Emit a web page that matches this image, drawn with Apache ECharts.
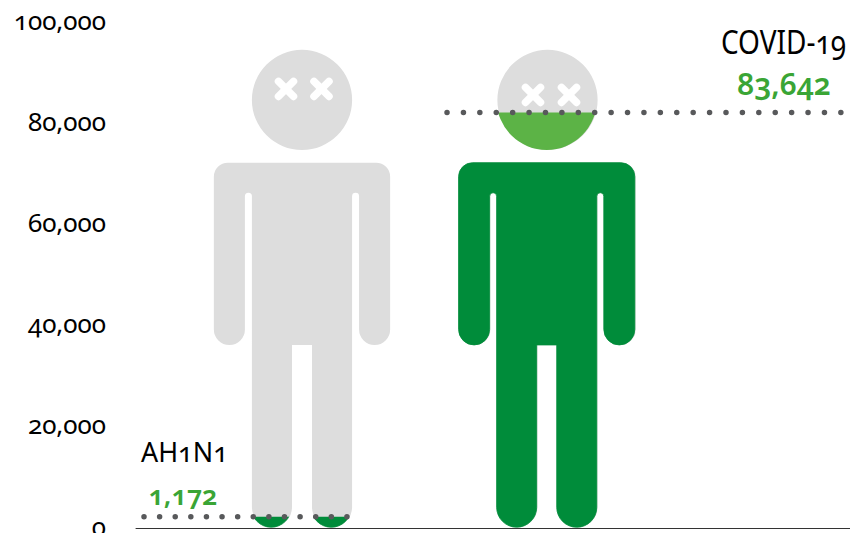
<!DOCTYPE html>
<html lang="en">
<head>
    <meta charset="UTF-8">
    <title>AH1N1 vs COVID-19</title>
    <script src="https://cdn.jsdelivr.net/npm/echarts@6/dist/echarts.min.js"></script>
    <style>
        html, body { margin: 0; padding: 0; background: #fff; }
        /* old style figures, the svg text inherits this */
        #main { width: 850px; height: 533px; font-feature-settings: "onum" 1; font-variant-numeric: oldstyle-nums; }
    </style>
</head>
<body>
<div id="main"></div>
<script>
    const categories = ['AH1N1', 'COVID-19'];
    const deathLabels = ['1,172', '83,642'];
    // level of the fill as it is drawn in the picture
    const fillLevels = [2230, 82100];
    const yTicks = [0, 20000, 40000, 60000, 80000, 100000];
    // figure extent on the y axis
    const headTop = 94500;
    const headBottom = 74700;
    const bodyTop = 72200;
    const bodyBottom = 150;

    const HEAD_PATH = 'M50 0A50 50 0 1 1 50 100A50 50 0 1 1 50 0Z';
    const BODY_PATH = 'M14 113H162A14 14 0 0 1 176 127V279.5A15.5 15.5 0 0 1 145 279.5V146.5A3.5 3.5 0 0 0 138 146.5V457A20 20 0 0 1 98 457V295H78V457A20 20 0 0 1 38 457V146.5A3.5 3.5 0 0 0 31 146.5V279.5A15.5 15.5 0 0 1 0 279.5V127A14 14 0 0 1 14 113Z';

    const FONT = '"Noto Sans"';
    const GREY = '#dddddd';
    const BODY_GREEN = '#008c3a';
    const HEAD_GREEN = '#5cb346';
    const TEXT_GREEN = '#3aa535';
    const DOT = '#58595b';

    // eyes are not quite in the same place on the two figures
    const eyeOffsets = [
        {x: [-16, 19.5], y: -11},
        {x: [-14.5, 21.5], y: -5}
    ];

    function eye(cx, cy) {
        const r = 7.5;
        const stroke = {stroke: '#fff', lineWidth: 7.5, lineCap: 'round'};
        return [
            {type: 'line', shape: {x1: cx - r, y1: cy - r, x2: cx + r, y2: cy + r}, style: stroke},
            {type: 'line', shape: {x1: cx - r, y1: cy + r, x2: cx + r, y2: cy - r}, style: stroke}
        ];
    }

    function renderFigure(params, api) {
        const idx = api.value(0);
        const level = api.value(1);
        const cx = api.coord([idx, 0])[0];
        const yOf = v => api.coord([idx, v])[1];

        const headT = yOf(headTop), headB = yOf(headBottom);
        const bodyT = yOf(bodyTop), bodyB = yOf(bodyBottom);
        const d = headB - headT;
        const bodyW = (bodyB - bodyT) * 176 / 364;
        const levelY = yOf(level);

        const head = (color, dx) => ({
            type: 'path',
            shape: {pathData: HEAD_PATH, x: cx + dx - d / 2, y: headT, width: d, height: d, layout: 'cover'},
            style: {fill: color}
        });
        // green sits a bit left of the grey and is a bit fatter
        const body = (color, dx, edge) => ({
            type: 'path',
            shape: {pathData: BODY_PATH, x: cx + dx - bodyW / 2, y: bodyT, width: bodyW, height: bodyB - bodyT, layout: 'cover'},
            style: {fill: color, stroke: edge ? color : null, lineWidth: edge}
        });
        const off = eyeOffsets[idx];
        const eyeY = (headT + headB) / 2 + off.y;

        return {
            type: 'group',
            children: [
                head(GREY, 0),
                body(GREY, 0, 0),
                {
                    type: 'group',
                    clipPath: {type: 'rect', shape: {x: cx - 120, y: levelY, width: 240, height: 500}},
                    children: [head(HEAD_GREEN, -0.8), body(BODY_GREEN, -0.8, 0.8)]
                }
            ].concat(eye(cx + off.x[0], eyeY), eye(cx + off.x[1], eyeY))
        };
    }

    function label(text, x, y, size, color, align, weight, scaleX) {
        return {
            type: 'text', x: x, y: y, z: 10, scaleX: scaleX || 1,
            style: {
                text: text, fill: color, align: align, verticalAlign: 'middle',
                fontFamily: FONT, fontSize: size, fontWeight: weight || 'normal'
            }
        };
    }

    let myChart = echarts.init(document.getElementById('main'), null, {renderer: 'svg'});

    let option = {
        animation: false,
        backgroundColor: '#fff',
        grid: [
            {left: 179.25, width: 491, top: 22, height: 506, outerBoundsMode: 'none'},
            {left: 136, right: 0, top: 22, height: 506, outerBoundsMode: 'none'}
        ],
        xAxis: [
            {type: 'category', gridIndex: 0, data: categories, show: false},
            {
                type: 'value', gridIndex: 1, min: 0, max: 1,
                axisLine: {show: true, onZero: false, lineStyle: {color: '#333', width: 1}},
                axisTick: {show: false}, axisLabel: {show: false}, splitLine: {show: false}
            }
        ],
        yAxis: [
            {type: 'value', gridIndex: 0, min: 0, max: 100000, show: false},
            {
                type: 'value', gridIndex: 1, min: 0, max: 100000, interval: 20000,
                axisLine: {show: false}, axisTick: {show: false}, splitLine: {show: false},
                axisLabel: {
                    show: true, margin: 30, color: '#000', fontFamily: FONT, fontSize: 26,
                    hideOverlap: false, verticalAlign: 'bottom', lineHeight: 5,
                    formatter: v => yTicks.includes(v) ? v.toLocaleString('en-US') : ''
                }
            }
        ],
        series: [
            {
                type: 'custom',
                xAxisIndex: 0, yAxisIndex: 0,
                clip: false,
                z: 2,
                renderItem: renderFigure,
                data: fillLevels.map((v, i) => [i, v])
            },
            {
                type: 'line',
                xAxisIndex: 1, yAxisIndex: 1,
                z: 5, symbol: 'none', silent: true,
                lineStyle: {color: DOT, width: 5.5, cap: 'round', type: [0.01, 15.6]},
                data: [[0.0112, fillLevels[0]], [0.2965, fillLevels[0]]]
            },
            {
                type: 'line',
                xAxisIndex: 1, yAxisIndex: 1,
                z: 5, symbol: 'none', silent: true,
                lineStyle: {color: DOT, width: 5.5, cap: 'round', type: [0.01, 16.4]},
                data: [[0.4356, fillLevels[1]], [1, fillLevels[1]]]
            }
        ],
        graphic: [
            label(categories[0], 141, 451, 28, '#000', 'left', 'normal', 0.96),
            label(deathLabels[0], 183, 494, 27, TEXT_GREEN, 'center', 600),
            label(categories[1], 846, 42, 32, '#000', 'right', 'normal', 0.875),
            label(deathLabels[1], 784, 83, 30, TEXT_GREEN, 'center', 600)
        ]
    };
    myChart.setOption(option);
</script>
</body>
</html>
